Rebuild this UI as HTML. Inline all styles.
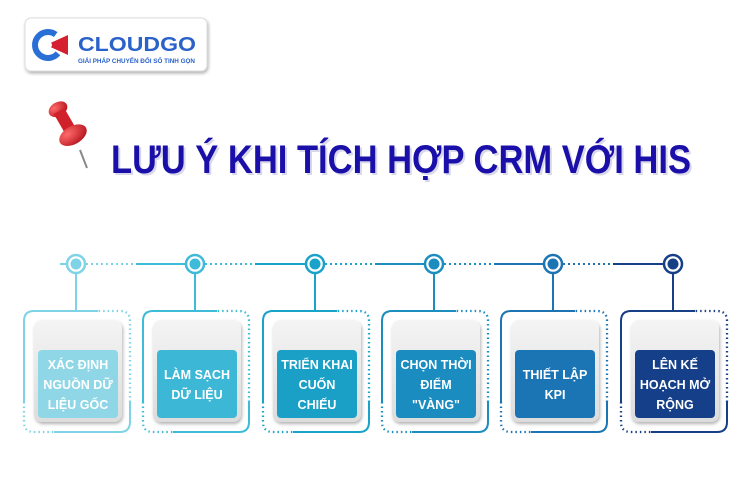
<!DOCTYPE html>
<html><head><meta charset="utf-8"><style>
html,body{margin:0;padding:0;background:#fff;width:750px;height:500px;overflow:hidden}
svg{display:block}
text{font-family:"Liberation Sans",sans-serif;font-weight:bold}
</style></head><body>
<svg width="750" height="500" viewBox="0 0 750 500" xmlns="http://www.w3.org/2000/svg">
<defs>
<linearGradient id="gray" x1="0" y1="0" x2="0" y2="1"><stop offset="0" stop-color="#f4f4f4"/><stop offset="1" stop-color="#dcdcdc"/></linearGradient>
<filter id="sh" x="-20%" y="-20%" width="140%" height="140%"><feDropShadow dx="1" dy="2" stdDeviation="1.5" flood-opacity="0.3"/></filter>
<radialGradient id="pin" cx="0.35" cy="0.3" r="0.8"><stop offset="0" stop-color="#ff6b6b"/><stop offset="1" stop-color="#b3101a"/></radialGradient>
<g id="frame" fill="none" stroke-width="2">
<path d="M22 311 H-42 Q-52 311 -52 321 V402"/>
<path d="M-52 402 V422 Q-52 432 -42 432 H-22" stroke-width="2.3" stroke-dasharray="1.5 3"/>
<path d="M-22 432 H44 Q54 432 54 422 V402"/>
<path d="M54 402 V321 Q54 311 44 311 H22" stroke-width="2.3" stroke-dasharray="1.5 3"/>
<line x1="0" y1="273" x2="0" y2="311"/>
<circle cx="0" cy="264" r="9" fill="#fff" stroke-width="2.5"/>
</g>
<rect id="card" x="-42" y="320" width="88" height="102" rx="8" fill="url(#gray)" filter="url(#sh)"/>
</defs>
<!-- logo -->
<rect x="25" y="18" width="182" height="53" rx="6" fill="#fff" stroke="#ddd" filter="url(#sh)"/>
<circle cx="48" cy="45" r="13" fill="none" stroke="#2a6fd6" stroke-width="6" stroke-dasharray="60 22" transform="rotate(40 48 45)"/>
<path d="M46 45 L68 35 L68 55 Z" fill="#d4202f"/>
<circle cx="49" cy="45" r="3" fill="#fff"/>
<text x="78" y="51" font-size="20" fill="#2a62c9" textLength="118" lengthAdjust="spacingAndGlyphs">CLOUDGO</text>
<text x="78" y="63" font-size="6.5" fill="#2a62c9" textLength="117" lengthAdjust="spacingAndGlyphs">GIẢI PHÁP CHUYỂN ĐỔI SỐ TINH GỌN</text>
<!-- pin -->
<line x1="80" y1="150" x2="87" y2="168" stroke="#888" stroke-width="2"/>
<g transform="rotate(-30 70 130)">
<ellipse cx="70" cy="106" rx="10" ry="7" fill="url(#pin)"/>
<rect x="64" y="108" width="12" height="22" fill="#d0202c"/>
<ellipse cx="70" cy="136" rx="15" ry="9" fill="url(#pin)"/>
</g>
<!-- title -->
<text x="113" y="175" font-size="40" fill="#d8d8ea" textLength="580" lengthAdjust="spacingAndGlyphs">LƯU Ý KHI TÍCH HỢP CRM VỚI HIS</text>
<text x="111" y="173" font-size="40" fill="#1a0fa8" textLength="580" lengthAdjust="spacingAndGlyphs">LƯU Ý KHI TÍCH HỢP CRM VỚI HIS</text>
<!-- timeline lines -->
<g stroke-width="2" fill="none">
<line x1="60" y1="264" x2="66" y2="264" stroke="#7fd3e6"/>
<line x1="86" y1="264" x2="136" y2="264" stroke="#7fd3e6" stroke-dasharray="2 3"/>
<line x1="136" y1="264" x2="186" y2="264" stroke="#3dbbd8"/>
<line x1="205" y1="264" x2="255" y2="264" stroke="#3dbbd8" stroke-dasharray="2 3"/>
<line x1="255" y1="264" x2="305" y2="264" stroke="#1aa3c8"/>
<line x1="325" y1="264" x2="375" y2="264" stroke="#1aa3c8" stroke-dasharray="2 3"/>
<line x1="375" y1="264" x2="424" y2="264" stroke="#1b8dbf"/>
<line x1="444" y1="264" x2="494" y2="264" stroke="#1b8dbf" stroke-dasharray="2 3"/>
<line x1="494" y1="264" x2="543" y2="264" stroke="#1d74b3"/>
<line x1="563" y1="264" x2="613" y2="264" stroke="#1d74b3" stroke-dasharray="2 3"/>
<line x1="613" y1="264" x2="663" y2="264" stroke="#163f86"/>
</g>
<!-- columns -->
<g transform="translate(76,0)" stroke="#7fd3e6">
<use href="#frame"/><circle cx="0" cy="264" r="5.5" fill="#7fd3e6" stroke="none"/><use href="#card" stroke="none"/>
<rect x="-38" y="350" width="80" height="68" rx="4" fill="#8fd6e6" stroke="none"/>
<g fill="#fff" stroke="none" font-size="12.5" text-anchor="middle"><text x="2" y="369">XÁC ĐỊNH</text><text x="2" y="389">NGUỒN DỮ</text><text x="2" y="409">LIỆU GỐC</text></g>
</g>
<g transform="translate(195,0)" stroke="#3dbbd8">
<use href="#frame"/><circle cx="0" cy="264" r="5.5" fill="#3dbbd8" stroke="none"/><use href="#card" stroke="none"/>
<rect x="-38" y="350" width="80" height="68" rx="4" fill="#3cb8d6" stroke="none"/>
<g fill="#fff" stroke="none" font-size="12.5" text-anchor="middle"><text x="2" y="379">LÀM SẠCH</text><text x="2" y="399">DỮ LIỆU</text></g>
</g>
<g transform="translate(315,0)" stroke="#1aa3c8">
<use href="#frame"/><circle cx="0" cy="264" r="5.5" fill="#1aa3c8" stroke="none"/><use href="#card" stroke="none"/>
<rect x="-38" y="350" width="80" height="68" rx="4" fill="#1aa0c6" stroke="none"/>
<g fill="#fff" stroke="none" font-size="12.5" text-anchor="middle"><text x="2" y="369">TRIỂN KHAI</text><text x="2" y="389">CUỐN</text><text x="2" y="409">CHIẾU</text></g>
</g>
<g transform="translate(434,0)" stroke="#1b8dbf">
<use href="#frame"/><circle cx="0" cy="264" r="5.5" fill="#1b8dbf" stroke="none"/><use href="#card" stroke="none"/>
<rect x="-38" y="350" width="80" height="68" rx="4" fill="#1a8cc0" stroke="none"/>
<g fill="#fff" stroke="none" font-size="12.5" text-anchor="middle"><text x="2" y="369">CHỌN THỜI</text><text x="2" y="389">ĐIỂM</text><text x="2" y="409">"VÀNG"</text></g>
</g>
<g transform="translate(553,0)" stroke="#1d74b3">
<use href="#frame"/><circle cx="0" cy="264" r="5.5" fill="#1d74b3" stroke="none"/><use href="#card" stroke="none"/>
<rect x="-38" y="350" width="80" height="68" rx="4" fill="#1b74b4" stroke="none"/>
<g fill="#fff" stroke="none" font-size="12.5" text-anchor="middle"><text x="2" y="379">THIẾT LẬP</text><text x="2" y="399">KPI</text></g>
</g>
<g transform="translate(673,0)" stroke="#163f86">
<use href="#frame"/><circle cx="0" cy="264" r="5.5" fill="#163f86" stroke="none"/><use href="#card" stroke="none"/>
<rect x="-38" y="350" width="80" height="68" rx="4" fill="#153f88" stroke="none"/>
<g fill="#fff" stroke="none" font-size="12.5" text-anchor="middle"><text x="2" y="369">LÊN KẾ</text><text x="2" y="389">HOẠCH MỞ</text><text x="2" y="409">RỘNG</text></g>
</g>
</svg>
</body></html>
